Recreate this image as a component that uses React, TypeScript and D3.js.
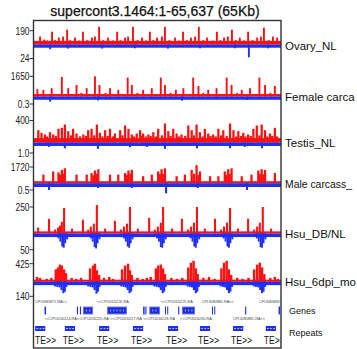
import React from "react";
import * as d3 from "d3";

// ---------------- DATA ----------------
const TITLE = "supercont3.1464:1-65,637 (65Kb)";
const GENOME_KB = 65.637;

const trackNames = ["Ovary_NL", "Female carca", "Testis_NL", "Male carcass_", "Hsu_DB/NL", "Hsu_6dpi_mo"];
const tickTop = [190, 1650, 400, 1720, 250, 425];
const tickBottom = [24, 0.3, 1.0, 0.5, 50, 140];
const tickTopLabels = ["190", "1650", "400", "1720", "250", "425"];
const tickBottomLabels = ["24", "0.3", "1.0", "0.5", "50", "140"];

// background coverage levels (plus strand / minus strand)
const plusFloor = [50, 200, 80, 210, 20, 48];
const minusFloor = [5.5, 0.13, 0.33, 0.28, 11, 33];

// [position kb, value]
const ovaryPlus: [number, number][] = [
  [1.6,109],[2.7,68],[3.5,55],[4.8,176],[5.6,60],[6.6,95],[7.7,109],[8.8,204],[9.6,60],[10.9,95],[12.0,55],[13.0,176],
  [14.2,60],[15.4,95],[16.2,109],[17.3,244],[18.4,60],[19.7,95],[21.0,55],[22.1,176],[23.0,60],[24.2,95],[25.0,109],
  [26.3,244],[27.5,60],[28.7,95],[29.8,55],[30.8,176],[31.7,60],[32.7,95],[34.0,109],[34.8,244],[36.0,60],[37.5,95],
  [38.6,55],[39.6,176],[40.6,60],[41.7,95],[42.8,109],[43.8,244],[45.0,60],[46.0,95],[47.5,55],[48.6,176],[49.5,60],
  [50.5,95],[51.5,109],[52.6,204],[53.6,60],[54.7,95],[55.8,55],[56.9,176],[58.1,60],[59.3,95],[60.3,109],[61.1,231],
  [62.4,60],[63.5,109],[64.6,95],
];
const ovaryMinus: [number, number][] = [
  [4.3,8],[9.0,7],[18.1,7],[26.8,6.5],[35.6,7],[44.1,6.5],[53.4,6.5],[57.1,22],[62.2,6.5],
];

const femalePlus: [number, number][] = [
  [0.9,605],[2.5,550],[4.7,681],[7.4,1597],[9.1,681],[11.3,943],[12.6,300],[14.0,681],[16.2,1650],[17.4,943],[19.0,300],
  [20.2,681],[22.4,550],[24.9,1545],[26.0,943],[27.5,300],[29.0,550],[31.3,681],[33.7,1545],[34.8,943],[36.3,300],
  [37.7,550],[39.7,681],[42.3,1545],[43.7,865],[45.0,300],[46.3,550],[48.5,681],[51.2,1545],[52.5,943],[54.0,300],
  [55.2,550],[57.4,681],[59.9,1545],[61.4,943],[62.8,300],[64.0,865],
];
const femaleMinus: [number, number][] = [
  [4.3,0.21],[17.0,0.16],[39.3,0.17],[56.6,0.14],
];

const testisPlus: [number, number][] = [
  [1.15,224],[2.0,176],[2.9,146],[3.5,110],[4.25,188],[5.1,146],[5.8,120],[6.5,249],[7.4,267],[8.2,327],[9.1,206],
  [9.8,130],[10.4,249],[11.3,164],[12.2,110],[13.1,146],[13.8,120],[14.4,224],[15.3,249],[16.0,130],[16.7,327],
  [17.5,176],[18.2,110],[18.9,224],[19.6,120],[20.2,249],[21.0,110],[21.5,164],[22.9,224],[23.5,130],[24.2,309],
  [25.1,249],[26.0,146],[26.6,110],[27.3,164],[28.2,224],[28.6,120],[29.0,164],[29.7,110],[30.4,146],[31.0,120],
  [31.7,188],[32.4,110],[33.0,249],[34.0,130],[34.8,346],[35.7,206],[36.3,120],[37.0,249],[37.9,164],[38.5,110],
  [39.2,146],[40.2,120],[41.0,309],[41.9,224],[42.5,130],[43.2,327],[44.1,188],[44.8,110],[45.4,249],[46.3,164],
  [46.9,120],[47.6,146],[48.3,110],[49.0,249],[49.7,130],[50.3,224],[51.2,120],[52.1,346],[53.0,224],[53.7,110],
  [54.3,206],[55.0,120],[55.6,176],[56.2,110],[56.9,146],[57.6,120],[58.3,249],[59.2,309],[59.9,130],[60.5,327],
  [61.4,224],[62.0,110],[62.7,164],[63.3,120],[64.0,267],[64.6,110],
];
const testisMinus: [number, number][] = [
  [4.0,0.42],[8.2,0.55],[17.0,0.6],[25.5,0.45],[30.0,0.42],[34.8,0.6],[43.3,0.55],[52.1,0.55],[56.0,0.42],[60.6,0.55],
];

const malePlus: [number, number][] = [
  [2.5,909],[5.1,1246],[6.5,1145],[6.9,900],[7.4,1414],[7.8,1000],[8.2,1582],[11.3,909],[14.0,909],[15.3,1077],
  [15.8,850],[16.2,1347],[16.7,1000],[17.1,1481],[20.2,909],[22.4,909],[24.2,1077],[24.7,900],[25.1,1347],[25.6,1000],
  [26.0,1414],[29.0,741],[31.3,909],[33.0,1246],[33.4,950],[33.9,1481],[34.3,1000],[34.8,1582],[37.9,741],[40.1,909],
  [41.9,1414],[42.5,1000],[43.2,1919],[43.7,900],[44.1,1246],[46.8,741],[49.0,741],[50.7,1246],[51.1,900],[51.6,1481],
  [52.0,1000],[52.5,1582],[55.2,741],[57.8,909],[59.6,1347],[60.0,1000],[60.5,1481],[61.0,950],[61.4,1414],[64.0,1077],
];
const maleMinus: [number, number][] = [
  [4.0,0.5],[17.0,0.35],[26.0,0.35],[35.1,0.75],[43.5,0.35],[56.6,0.5],
];

const dbPlus: [number, number][] = [
  [1.1,56],[4.0,139],[5.6,37],[6.4,56],[6.9,74],[7.4,111],[8.0,241],[10.1,46],[13.0,130],[14.4,37],[15.1,65],[15.9,93],
  [16.7,269],[18.9,46],[21.5,120],[23.1,37],[23.9,65],[24.7,93],[25.5,250],[27.6,46],[30.6,148],[32.1,37],[32.9,65],
  [33.7,102],[34.3,250],[36.7,46],[39.3,139],[40.9,37],[41.7,65],[42.5,102],[43.3,250],[45.4,46],[48.1,139],[49.7,37],
  [50.5,65],[51.3,102],[52.1,241],[54.2,46],[56.9,139],[58.5,37],[59.3,65],[60.0,102],[60.8,250],[63.0,46],
];
const dbMinus: [number, number][] = [
  [6.5,15],[7.0,25],[7.5,40],[7.9,44],[8.3,30],[8.8,18],
  [15.1,15],[15.6,25],[16.1,42],[16.5,46],[16.9,30],[17.4,18],
  [23.9,15],[24.4,25],[24.9,40],[25.3,44],[25.7,30],[26.2,18],
  [32.7,15],[33.2,25],[33.7,42],[34.1,44],[34.5,30],[35.0,18],
  [41.6,15],[42.1,25],[42.6,40],[43.0,44],[43.4,30],[43.9,18],
  [50.4,15],[50.9,25],[51.4,40],[51.8,44],[52.2,30],[52.7,18],
  [59.2,15],[59.7,25],[60.2,42],[60.6,44],[61.0,30],[61.5,18],
];

const mdPlus: [number, number][] = [
  [0.8,112],[1.6,90],[3.4,67],[4.6,90],
  [5.8,291],[6.4,336],[6.9,403],[7.4,381],[8.0,291],[8.5,202],
  [10.0,90],[11.2,67],[12.5,90],
  [14.9,314],[15.7,381],[16.2,425],[16.7,269],[17.3,157],
  [18.6,90],[20.0,112],[21.0,67],
  [23.4,291],[24.2,381],[25.0,425],[25.5,269],[26.0,157],
  [27.5,90],[28.9,67],[30.0,90],[31.0,112],
  [32.4,314],[33.0,381],[33.7,403],[34.3,314],[34.8,180],
  [36.5,90],[38.0,67],[39.4,90],
  [41.0,336],[41.7,448],[42.4,493],[43.0,314],[43.5,180],
  [45.0,90],[46.5,112],[48.0,67],
  [49.8,314],[50.5,448],[51.2,493],[51.8,291],[52.4,157],
  [54.0,90],[55.4,67],[57.0,90],
  [58.5,291],[59.3,403],[60.0,448],[60.6,336],[61.2,180],
  [62.8,90],[64.0,112],[64.8,67],
];
const mdMinus: [number, number][] = [
  [5.6,45],[6.2,50],[6.8,55],[7.3,80],[7.8,110],[8.2,95],[8.6,50],
  [14.4,45],[15.0,50],[15.6,55],[16.1,80],[16.6,115],[17.0,95],[17.4,50],
  [23.2,45],[23.8,50],[24.4,55],[24.9,80],[25.4,110],[25.8,95],[26.2,50],
  [32.0,45],[32.6,50],[33.2,55],[33.7,80],[34.2,110],[34.6,95],[35.0,50],
  [40.8,45],[41.4,50],[42.0,55],[42.5,80],[43.0,110],[43.4,95],[43.8,50],
  [49.6,45],[50.2,50],[50.8,55],[51.3,80],[51.8,110],[52.2,95],[52.6,50],
  [58.4,45],[59.0,50],[59.6,55],[60.1,80],[60.6,110],[61.0,95],[61.4,50],
];

const trackPlus = [ovaryPlus, femalePlus, testisPlus, malePlus, dbPlus, mdPlus];
const trackMinus = [ovaryMinus, femaleMinus, testisMinus, maleMinus, dbMinus, mdMinus];

// genes: exon blocks [start kb, end kb]
const geneExons: [number, number][] = [
  [2.8,3.2],[11.4,11.7],[12.2,12.5],[13.0,15.7],[19.4,24.7],[29.0,29.4],[29.6,29.9],[30.6,33.5],
  [34.8,35.0],[35.4,35.6],[38.3,38.6],[39.3,42.8],[47.3,47.5],[47.9,48.1],[56.1,56.4],[65.0,65.4],
];
const geneLabels = [
  "CPIJ080871-RA<<", "<<CPIJ016224-RA", "<<CPIJ016225-RA", "<<CPIJ016226-RA", "<<CPIJ016227-RA", "<<CPIJ016228-RA",
  "<<CPIJ016229-RA", "<<CPIJ016230-RA", "CPIJ080880-RA<<", "CPIJ080881-RA<<", "CPIJ080882-RA<<",
];
const geneLabelStart = [0.3, 2.9, 11.4, 16.7, 20.2, 29.0, 33.7, 38.8, 44.6, 52.9, 59.8];
const geneLabelRow = [0, 1, 1, 0, 1, 1, 0, 1, 0, 1, 0];

// repeats
const repeatStarts = [0.3, 8.2, 17.3, 26.3, 35.6, 44.1, 52.9, 61.6];
const repeatLen = 2.7;
const repeatLabel = "TE>>";

// ---------------- LAYOUT ----------------
const W = 357, H = 349;
const X0 = 34, X1 = 281;
const layout = [
  { top: 30.7, base: 44.5, bottom: 58.5, label: 49.5 },
  { top: 76.3, base: 96.5, bottom: 104, label: 100.5 },
  { top: 120.5, base: 142.5, bottom: 153, label: 147 },
  { top: 167, base: 183.2, bottom: 190, label: 188 },
  { top: 207, base: 233.5, bottom: 249.7, label: 238 },
  { top: 263.7, base: 281.7, bottom: 296.3, label: 286 },
];
const plusW = [0.5, 0.5, 0.6, 0.6, 0.55, 0.65];
const minusW = [0.5, 0.5, 0.55, 0.55, 0.5, 0.55];
const labelSize = [11.5, 11.5, 11.5, 10.4, 11.5, 11.5];
const RED = "#ff1010";
const BLUE = "#1f2ef2";
const FONT = "Arial, 'Liberation Sans', sans-serif";

export default function App() {
  const x = d3.scaleLinear().domain([0, GENOME_KB]).range([X0, X1]);
  return (
    <svg width={W} height={H} style={{ position: "absolute", left: 0, top: 0, background: "#fff" }} fontFamily={FONT}>
      <defs>
        <clipPath id="plot">
          <rect x={X0} y={20} width={X1 - X0} height={330} />
        </clipPath>
      </defs>
      <rect x={0} y={0} width={W} height={H} fill="#fff" />
      <text x={155} y={15.5} fontSize={14} textAnchor="middle" fill="#111" stroke="#111" strokeWidth={0.25}>{TITLE}</text>

      <g clipPath="url(#plot)">
        {layout.map((L, i) => {
          const yP = d3.scaleLinear().domain([0, tickTop[i]]).range([L.base, L.top]);
          const yN = d3.scaleLinear().domain([0, tickBottom[i]]).range([L.base, L.bottom]);
          return (
            <g key={i}>
              <rect x={X0} width={X1 - X0} y={yP(plusFloor[i])} height={L.base - yP(plusFloor[i])} fill={RED} />
              {trackPlus[i].map(([p, v], j) => (
                <rect key={"p" + j} x={x(p - plusW[i] / 2)} width={x(plusW[i]) - x(0)} y={yP(v)} height={L.base - yP(v)} fill={RED} />
              ))}
              <rect x={X0} width={X1 - X0} y={L.base} height={yN(minusFloor[i]) - L.base} fill={BLUE} />
              {trackMinus[i].map(([p, v], j) => (
                <rect key={"m" + j} x={x(p - minusW[i] / 2)} width={x(minusW[i]) - x(0)} y={L.base} height={yN(v) - L.base} fill={BLUE} />
              ))}
            </g>
          );
        })}

        {/* genes */}
        {geneExons.map(([s, e], j) => {
          const wide = x(e) - x(s) > 3;
          return (
            <g key={"g" + j}>
              <rect x={x(s)} y={306.5} width={Math.max(1, x(e) - x(s))} height={8} fill={wide ? "#6f7fe6" : BLUE} />
              {wide && <rect x={x(s) + 1} y={307.5} width={x(e) - x(s) - 2} height={6} fill="#1c2bd8" />}
              {wide && d3.range(x(s) + 3, x(e) - 2, 3.2).map((xx, k) => (
                <rect key={k} x={xx} y={309.5} width={1.2} height={2} fill="#8c9af0" />
              ))}
            </g>
          );
        })}
        {geneLabels.map((t, j) => (
          <text key={"gl" + j} x={x(geneLabelStart[j])} y={geneLabelRow[j] === 0 ? 303 : 319.5} fontSize={3.8} fill="#444">{t}</text>
        ))}

        {/* repeats */}
        {repeatStarts.map((s, j) => (
          <g key={"r" + j}>
            <rect x={x(s)} y={326} width={x(s + repeatLen) - x(s)} height={5} fill={BLUE} />
            {[0, 1, 2].map((k) => (
              <rect key={k} x={x(s) + 1.3 + k * 3.1} y={328} width={1.6} height={1} fill="#c9cff8" />
            ))}
            <text transform={`translate(${Math.max(X0 + 1, x(s) - 2)},344) scale(0.75,1)`} fontSize={11.5} fill="#111">{repeatLabel}</text>
          </g>
        ))}
      </g>

      {/* frame */}
      <rect x={X0 - 0.5} y={20.5} width={X1 - X0 + 0.5} height={327.5} fill="none" stroke="#333" strokeWidth={1.4} />

      {/* ticks */}
      {layout.map((L, i) => (
        <g key={"t" + i} fontSize={10.5} fill="#222">
          <line x1={29.5} x2={X0} y1={L.top} y2={L.top} stroke="#333" />
          <line x1={29.5} x2={X0} y1={L.bottom} y2={L.bottom} stroke="#333" />
          <text transform={`translate(29.5,${L.top + 3.8}) scale(0.8,1)`} textAnchor="end">{tickTopLabels[i]}</text>
          <text transform={`translate(29.5,${L.bottom + 3.8}) scale(0.8,1)`} textAnchor="end">{tickBottomLabels[i]}</text>
          <text x={285} y={L.label} fontSize={labelSize[i]} fill="#111">{trackNames[i]}</text>
        </g>
      ))}
      <text x={289} y={314} fontSize={9} fill="#111">Genes</text>
      <text x={289} y={336} fontSize={9} fill="#111">Repeats</text>
    </svg>
  );
}
